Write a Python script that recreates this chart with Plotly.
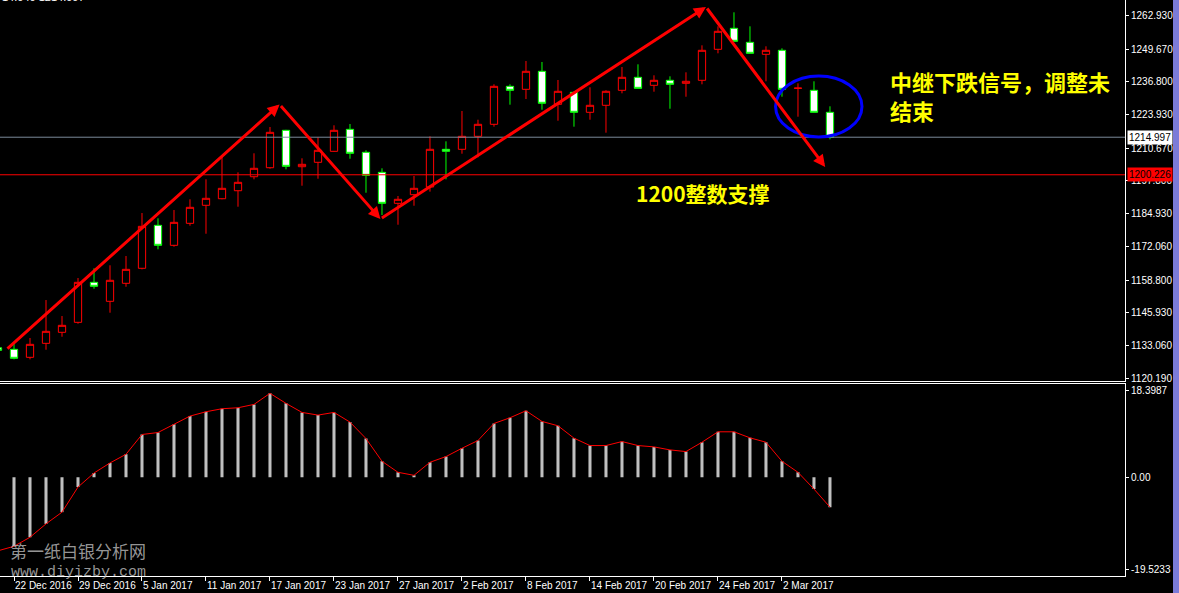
import plotly.graph_objects as go

# ---------------- data ----------------
bar_index = list(range(-1, 52))
open_ = [1132.2, 1131.59, 1128.45, 1133.95, 1138.28, 1142.21, 1157.94, 1150.47, 1157.55, 1163.45,
         1180.35, 1172.49, 1181.14, 1188.22, 1190.81, 1193.96, 1199.46, 1203.00, 1217.71, 1203.40,
         1205.13, 1209.45, 1218.10, 1209.06, 1201.19, 1189.00, 1192.39, 1195.41, 1210.24, 1210.24,
         1215.35, 1220.07, 1235.01, 1233.83, 1240.91, 1227.93, 1232.65, 1224.79, 1227.54, 1233.44,
         1238.55, 1235.40, 1237.37, 1236.19, 1237.37, 1249.56, 1257.82, 1252.31, 1247.59, 1249.17,
         1234.22, 1233.44, 1224.79]
high = [1132.4, 1133.68, 1136.04, 1150.98, 1144.69, 1159.63, 1163.45, 1164.63, 1168.28, 1185.19,
        1183.11, 1186.37, 1190.58, 1198.44, 1207.33, 1201.19, 1208.67, 1219.01, 1217.90, 1206.70,
        1214.96, 1219.68, 1220.19, 1209.85, 1202.77, 1191.88, 1199.74, 1215.35, 1213.38, 1225.30,
        1221.88, 1235.80, 1235.80, 1244.96, 1244.57, 1237.49, 1232.89, 1234.62, 1233.44, 1242.60,
        1243.66, 1239.34, 1238.94, 1240.52, 1251.13, 1258.60, 1264.11, 1258.60, 1250.74, 1249.95,
        1236.19, 1236.98, 1227.15]
low = [1131.0, 1127.66, 1127.66, 1131.44, 1136.55, 1141.66, 1155.42, 1145.99, 1156.21, 1163.05,
       1170.92, 1171.94, 1180.20, 1177.05, 1190.58, 1187.67, 1198.44, 1202.61, 1202.37, 1195.93,
       1198.68, 1209.30, 1206.54, 1193.17, 1184.40, 1180.59, 1188.06, 1193.60, 1198.44, 1208.51,
       1207.09, 1219.13, 1227.78, 1230.02, 1225.81, 1221.48, 1219.13, 1221.88, 1216.77, 1232.26,
       1234.10, 1232.89, 1226.20, 1230.92, 1235.80, 1247.99, 1252.60, 1247.90, 1236.98, 1230.92,
       1223.06, 1224.70, 1214.17]
close = [1131.2, 1128.06, 1133.56, 1138.67, 1141.03, 1157.94, 1156.37, 1158.73, 1163.05, 1179.96,
         1172.49, 1181.53, 1187.43, 1190.97, 1194.90, 1197.26, 1202.77, 1216.92, 1203.55, 1204.34,
         1209.85, 1217.71, 1208.67, 1200.01, 1189.00, 1190.58, 1194.90, 1210.24, 1209.45, 1215.35,
         1220.07, 1235.01, 1233.44, 1240.91, 1228.33, 1233.05, 1224.79, 1227.54, 1233.05, 1238.55,
         1234.22, 1237.37, 1235.80, 1236.98, 1249.17, 1256.64, 1252.71, 1247.99, 1249.17, 1233.83,
         1234.30, 1224.79, 1214.997]
macd = [-15.6, -14.64, -12.72, -9.88, -7.39, -2.06, 0.92, 3.06, 4.90, 9.10,
        9.52, 11.30, 13.01, 13.93, 14.57, 14.78, 15.49, 17.84, 15.71, 13.79,
        13.22, 13.79, 11.73, 8.24, 3.41, 1.07, 0.43, 3.20, 4.41, 6.18,
        7.82, 11.44, 12.65, 14.14, 11.87, 10.95, 8.32, 6.75, 6.75, 7.60,
        6.75, 6.47, 5.83, 5.47, 7.46, 9.67, 9.67, 8.39, 7.46, 3.41,
        1.07, -2.49, -6.33]

date_ticks = ["22 Dec 2016", "29 Dec 2016", "5 Jan 2017", "11 Jan 2017", "17 Jan 2017",
              "23 Jan 2017", "27 Jan 2017", "2 Feb 2017", "8 Feb 2017", "14 Feb 2017",
              "20 Feb 2017", "24 Feb 2017", "2 Mar 2017"]
price_ticks = [1262.93, 1249.67, 1236.80, 1223.93, 1210.67, 1197.80, 1184.93,
               1172.06, 1158.80, 1145.93, 1133.06, 1120.19]
price_tick_text = ["1262.930", "1249.670", "1236.800", "1223.930", "1210.670", "1197.800",
                   "1184.930", "1172.060", "1158.800", "1145.930", "1133.060", "1120.190"]
macd_ticks = [18.3987, 0.0, -19.5233]
macd_tick_text = ["18.3987", "0.00", "-19.5233"]

current_price = 1214.997
support_level = 1200.226
trend_points = [(-0.5, 1131.3), (16.6, 1227.85), (22.9, 1182.85), (43.25, 1266.2), (50.7, 1203.3)]
circle_box = (47.6, 1215.07, 53.0, 1239.06)

# ---------------- figure ----------------
axis_font = dict(family="Liberation Sans Narrow, Liberation Sans, Arial", size=10, color="white")

fig = go.Figure()
fig.add_trace(go.Candlestick(
    x=bar_index, open=open_, high=high, low=low, close=close,
    increasing=dict(line=dict(color="#FF0000", width=1), fillcolor="#000000"),
    decreasing=dict(line=dict(color="#00FF00", width=1), fillcolor="#FFFFFF"),
    whiskerwidth=0, xaxis="x", yaxis="y", showlegend=False, hoverinfo="skip"))
fig.add_trace(go.Bar(x=bar_index, y=macd, width=0.19, marker=dict(color="#C0C0C0", line=dict(width=0)),
                     xaxis="x2", yaxis="y2", showlegend=False, hoverinfo="skip"))
fig.add_trace(go.Scatter(x=bar_index, y=macd, mode="lines", line=dict(color="#FF0000", width=1),
                         xaxis="x2", yaxis="y2", showlegend=False, hoverinfo="skip"))

xr = [-0.875, 69.44]
fig.update_layout(
    width=1179, height=593,
    margin=dict(l=0, r=54, t=0, b=17, autoexpand=False),
    paper_bgcolor="#000000", plot_bgcolor="#000000",
    boxgap=0.35,
    xaxis=dict(domain=[0, 1], anchor="y", range=xr, showgrid=False, zeroline=False, automargin=False,
               showticklabels=False, showline=True, linecolor="white", linewidth=1,
               rangeslider=dict(visible=False), ticks=""),
    yaxis=dict(domain=[0.3385, 1], anchor="x", side="right", range=[1119.13, 1268.95], automargin=False,
               showgrid=False, zeroline=False, showline=True, linecolor="white", linewidth=1,
               tickvals=price_ticks, ticktext=price_tick_text, ticks="outside", ticklen=3,
               tickcolor="white", tickfont=axis_font),
    xaxis2=dict(domain=[0, 1], anchor="y2", range=xr, matches="x", showgrid=False, zeroline=False,
                automargin=False, showline=True, mirror=True, linecolor="white", linewidth=1,
                tickvals=list(range(0, 52, 4)), ticktext=date_ticks, ticks="outside", ticklen=4,
                tickangle=0, tickcolor="white", ticklabelposition="outside right", tickfont=axis_font),
    yaxis2=dict(domain=[0, 0.3342], anchor="x2", side="right", range=[-20.95, 19.93], automargin=False,
                showgrid=False, zeroline=False, showline=True, linecolor="white", linewidth=1,
                tickvals=macd_ticks, ticktext=macd_tick_text, ticks="outside", ticklen=3,
                tickcolor="white", tickfont=axis_font),
)

# horizontal lines
fig.add_shape(type="line", xref="paper", x0=0, x1=1, yref="y", y0=current_price, y1=current_price,
              line=dict(color="#7A8A9A", width=1))
fig.add_shape(type="line", xref="paper", x0=0, x1=1, yref="y", y0=support_level, y1=support_level,
              line=dict(color="#FF0000", width=1))
# blue ellipse
fig.add_shape(type="circle", xref="x", yref="y", x0=circle_box[0], y0=circle_box[1],
              x1=circle_box[2], y1=circle_box[3], line=dict(color="#0000FF", width=3))
# window strip at right
fig.add_shape(type="rect", xref="paper", yref="paper", x0=1173 / 1125, x1=1179 / 1125,
              y0=-17 / 576, y1=1, fillcolor="#7B7BD8", line=dict(width=0), layer="above")

# trend arrows
for (x0, y0), (x1, y1) in zip(trend_points[:-1], trend_points[1:]):
    fig.add_annotation(x=x1, y=y1, ax=x0, ay=y0, xref="x", yref="y", axref="x", ayref="y",
                       text="", showarrow=True, arrowhead=2, arrowsize=0.8, arrowwidth=3,
                       arrowcolor="#FF0000", standoff=0)

# price labels on the axis
lab_font = dict(family="Liberation Sans Narrow, Liberation Sans, Arial", size=10, color="#000000")
fig.add_annotation(xref="paper", x=1, xanchor="left", xshift=2, yref="y", y=current_price,
                   text="1214.997", showarrow=False, bgcolor="#FFFFFF", borderpad=1, font=lab_font)
fig.add_annotation(xref="paper", x=1, xanchor="left", xshift=2, yref="y", y=support_level,
                   text="1200.226", showarrow=False, bgcolor="#FF0000", borderpad=1, font=lab_font)

# texts
fig.add_annotation(xref="paper", yref="paper", x=888 / 1125, y=1 - 95 / 576, xanchor="left", yanchor="middle",
                   text="中继下跌信号，调整未<br>结束", align="left", showarrow=False,
                   font=dict(family="Noto Sans CJK SC", size=22, color="#FFFF00", weight="bold"))
fig.add_annotation(xref="paper", yref="paper", x=703 / 1125, y=1 - 192.7 / 576, xanchor="center",
                   yanchor="middle", text="1200整数支撑", showarrow=False,
                   font=dict(family="Noto Sans CJK SC", size=21, color="#FFFF00", weight="bold"))
fig.add_annotation(xref="paper", yref="paper", x=0, y=1 - 5 / 576, xanchor="left", yanchor="bottom",
                   text="14.040 1214.997", showarrow=False,
                   font=dict(family="Liberation Sans", size=11, color="white"))
# watermark
fig.add_annotation(xref="paper", yref="paper", x=8 / 1125, y=1 - 550.7 / 576, xanchor="left",
                   yanchor="middle", text="第一纸白银分析网", showarrow=False,
                   font=dict(family="Noto Sans CJK SC", size=17, color="rgba(190,190,190,0.8)"))
fig.add_annotation(xref="paper", yref="paper", x=9 / 1125, y=1 - 572.7 / 576, xanchor="left",
                   yanchor="middle", text="www.diyizby.com", showarrow=False,
                   font=dict(family="Liberation Mono", size=15, color="rgba(190,190,190,0.8)"))

fig.write_html("out.html", config={"displayModeBar": False},
               post_script="document.body.style.margin='0';document.body.style.background='#000';")
